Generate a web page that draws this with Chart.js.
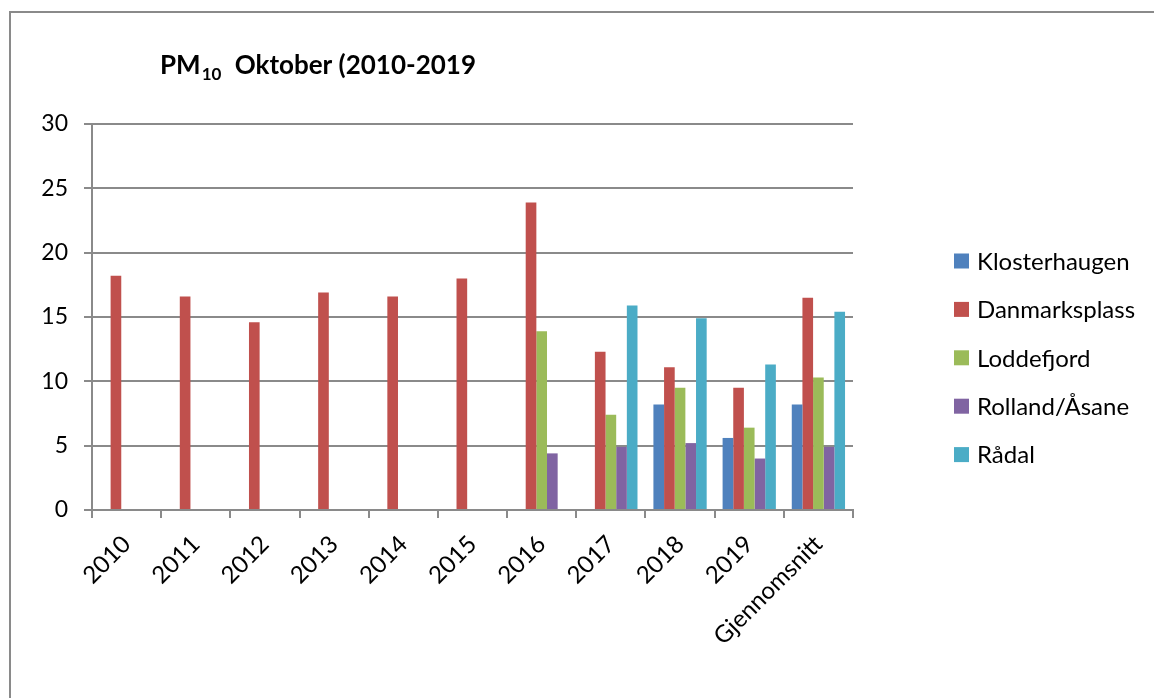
<!DOCTYPE html>
<html><head><meta charset="utf-8">
<script src="https://cdn.jsdelivr.net/npm/chart.js@4"></script>
<style>html,body{margin:0;padding:0;background:#fff;overflow:hidden}canvas{display:block}</style>
</head><body>
<canvas id="c" width="1154" height="698"></canvas>
<script>
const categories = ['2010','2011','2012','2013','2014','2015','2016','2017','2018','2019','Gjennomsnitt'];
const seriesNames = ['Klosterhaugen','Danmarksplass','Loddefjord','Rolland/Åsane','Rådal'];
const klosterhaugen = [null,null,null,null,null,null,null,null,8.2,5.6,8.2];
const danmarksplass = [18.2,16.6,14.6,16.9,16.6,18.0,23.9,12.3,11.1,9.5,16.5];
const loddefjord    = [null,null,null,null,null,null,13.9,7.4,9.5,6.4,10.3];
const rollandAsane  = [null,null,null,null,null,null,4.4,4.9,5.2,4.0,4.9];
const radal         = [null,null,null,null,null,null,null,15.9,14.9,11.3,15.4];
const yTicks = [0,5,10,15,20,25,30];
const titleMain = 'PM';
const titleSub = '10';
const titleRest = ' Oktober (2010-2019';

const colors = ['#4F81BD','#C0504D','#9BBB59','#8064A2','#4BACC6'];
const values = [klosterhaugen, danmarksplass, loddefjord, rollandAsane, radal];
const FONT = 'Lato, "Open Sans", sans-serif';

const decor = {
  id: 'decor',
  beforeDraw(chart) {
    const ctx = chart.ctx;
    ctx.save();
    ctx.fillStyle = '#fff';
    ctx.fillRect(0, 0, chart.width, chart.height);
    ctx.strokeStyle = '#8a8a8a';
    ctx.lineWidth = 2;
    ctx.strokeRect(10, 12, 1400, 900);
    ctx.restore();
  },
  afterDraw(chart) {
    const ctx = chart.ctx;
    ctx.save();
    ctx.fillStyle = '#000';
    ctx.textBaseline = 'alphabetic';
    ctx.textAlign = 'left';
    let x = 160;
    ctx.font = 'bold 26px ' + FONT;
    ctx.fillText(titleMain, x, 74);
    x += ctx.measureText(titleMain).width + 1;
    ctx.font = 'bold 17px ' + FONT;
    ctx.fillText(titleSub, x, 80);
    x += ctx.measureText(titleSub).width + 7;
    ctx.font = 'bold 26px ' + FONT;
    ctx.fillText(titleRest, x, 74);
    ctx.font = '24px ' + FONT;
    ctx.textBaseline = 'middle';
    chart.data.datasets.forEach((ds, i) => {
      const cy = 261 + i * 48.4;
      ctx.fillStyle = ds.backgroundColor;
      ctx.fillRect(954, cy - 7.5, 15, 15);
      ctx.fillStyle = '#000';
      ctx.fillText(ds.label, 977, cy + 1);
    });
    ctx.restore();
  }
};

new Chart(document.getElementById('c'), {
  type: 'bar',
  data: {
    labels: categories,
    datasets: seriesNames.map((n, i) => ({
      label: n,
      data: values[i],
      backgroundColor: colors[i],
      borderWidth: 0,
      barPercentage: 1.0,
      categoryPercentage: 0.77
    }))
  },
  options: {
    responsive: false,
    devicePixelRatio: 1,
    animation: false,
    layout: { padding: { top: 124, right: 301, left: 0, bottom: 0 } },
    plugins: { legend: { display: false }, title: { display: false }, tooltip: { enabled: false } },
    scales: {
      x: {
        afterFit: s => { s.height = 698 - 510; },
        grid: { display: true, drawOnChartArea: false, drawTicks: true, tickLength: 8, color: '#8a8a8a', lineWidth: 2, offset: true },
        border: { display: true, color: '#8a8a8a', width: 2 },
        ticks: { color: '#000', font: { family: FONT, size: 24 }, maxRotation: 45, minRotation: 45, autoSkip: false, padding: 12 }
      },
      y: {
        min: 0, max: 30,
        afterFit: s => { s.width = 92; },
        afterBuildTicks: s => { s.ticks = yTicks.map(v => ({ value: v })); },
        grid: { color: '#8a8a8a', lineWidth: 2, tickLength: 8, drawTicks: true },
        border: { display: true, color: '#8a8a8a', width: 2 },
        ticks: { color: '#000', font: { family: FONT, size: 23 }, padding: 16 }
      }
    }
  },
  plugins: [decor]
});
</script>
</body></html>
